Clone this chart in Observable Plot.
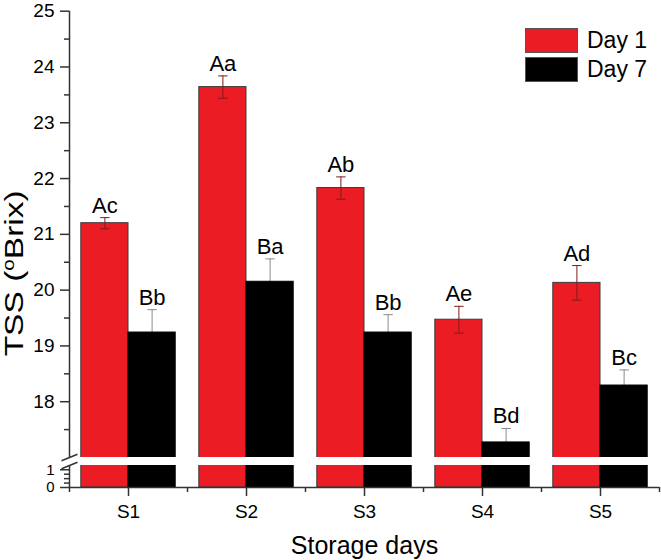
<!DOCTYPE html>
<html><head><meta charset="utf-8">
<script src="https://cdn.jsdelivr.net/npm/d3@7"></script>
<script src="https://cdn.jsdelivr.net/npm/@observablehq/plot@0.6"></script>
<style>
body{margin:0;background:#fff;font-family:"Liberation Sans",Arial,sans-serif;}
#wrap{position:relative;width:661px;height:560px;}
#legend{position:absolute;left:525px;top:28px;}
.item{display:flex;align-items:center;height:25px;margin-bottom:4px;font-size:23px;color:#000;}
.swatch{width:51px;height:23px;border:1px solid #555;margin-right:9px;box-sizing:content-box;}
</style></head><body>
<div id="wrap"><div id="legend"></div></div>
<script>
// ---- data ----
const samples = ["S1", "S2", "S3", "S4", "S5"];
const seriesNames = ["Day 1", "Day 7"];
const seriesColors = ["#ec1c24", "#000000"];
const day1 = [21.20, 23.64, 21.83, 19.47, 20.13];
const day1Err = [0.10, 0.20, 0.20, 0.24, 0.31];
const day7 = [19.24, 20.15, 19.24, 17.27, 18.29];
const day7Err = [0.41, 0.41, 0.32, 0.25, 0.28];
const day1Letters = ["Ac", "Aa", "Ab", "Ae", "Ad"];
const day7Letters = ["Bb", "Ba", "Bb", "Bd", "Bc"];
const yTicksMajor = [0, 1, 18, 19, 20, 21, 22, 23, 24, 25];
const yTicksMinor = [0.25, 0.5, 0.75, 17.5, 18.5, 19.5, 20.5, 21.5, 22.5, 23.5, 24.5];
const yBreak = [1.24, 17];
const yMax = 25;
const xTitle = "Storage days";
const yTitle = "TSS (oBrix)";

// ---- layout ----
const W = 661, H = 560, mL = 69, mR = 2, mT = 10.7, mB = 73;
const bottom = H - mB;
const yRange = [bottom, bottom - 22, bottom - 30, mT];
const xDomain = [-0.5, samples.length - 0.5];
const barOffsets = [-0.4, 0], barW = 0.4, capHalf = 0.04;

const vals = [day1, day7], errs = [day1Err, day7Err], letters = [day1Letters, day7Letters];
const rows = samples.flatMap((s, i) => seriesNames.map((n, k) => ({
  i, s, k, series: n, v: vals[k][i], e: errs[k][i], lab: letters[k][i],
  x1: i + barOffsets[k], x2: i + barOffsets[k] + barW, xc: i + barOffsets[k] + barW / 2
})));
const r1 = rows.filter(d => d.k === 0), r7 = rows.filter(d => d.k === 1);
const errColors = ["#7d1b1b", "#8a8a8a"];

function errMarks(data, k) {
  return [
    Plot.ruleX(data, {x: "xc", y1: d => d.v - d.e, y2: d => d.v + d.e, stroke: errColors[k], strokeWidth: 1}),
    Plot.link(data, {x1: d => d.xc - capHalf, x2: d => d.xc + capHalf, y1: d => d.v + d.e, y2: d => d.v + d.e, stroke: errColors[k], strokeWidth: 1}),
    Plot.link(data, {x1: d => d.xc - capHalf, x2: d => d.xc + capHalf, y1: d => d.v - d.e, y2: d => d.v - d.e, stroke: errColors[k], strokeWidth: 1})
  ];
}

const slash = {draw(ctx, size) { const r = Math.sqrt(size / Math.PI); ctx.moveTo(-r, r * 0.4); ctx.lineTo(r, -r * 0.4); }};
const axisColor = "#333";

const chart = Plot.plot({
  width: W, height: H, marginLeft: mL, marginRight: mR, marginTop: mT, marginBottom: mB,
  style: {fontFamily: "'Liberation Sans', Arial, sans-serif", fontSize: "19px", color: "#000", background: "#fff"},
  x: {type: "linear", domain: xDomain},
  y: {type: "linear", domain: [0, yBreak[0], yBreak[1], yMax], range: yRange},
  marks: [
    ...errMarks(r7, 1),
    Plot.rectY(rows, {x1: "x1", x2: "x2", y1: 0, y2: "v", fill: d => seriesColors[d.k], stroke: d => d.k === 0 ? "#3a3a3a" : "#000", strokeWidth: 1}),
    ...errMarks(r1, 0),
    Plot.rect([yBreak], {x1: xDomain[0], x2: xDomain[1], y1: d => d[0], y2: d => d[1], fill: "#fff"}),
    Plot.text(rows, {x: "xc", y: d => d.v + d.e, text: "lab", dy: -5, lineAnchor: "bottom", fontSize: 22}),
    Plot.ruleY([0], {stroke: axisColor, strokeWidth: 1.5}),
    Plot.ruleX([[0, yBreak[0]], [yBreak[1], yMax]], {x: xDomain[0], y1: d => d[0], y2: d => d[1], stroke: axisColor, strokeWidth: 1.5}),
    Plot.dot(yBreak, {x: xDomain[0], y: d => d, symbol: slash, r: 8, stroke: axisColor, strokeWidth: 1.5, fill: "none"}),
    Plot.axisY(yTicksMajor, {tickSize: 9, tickPadding: 6, fontSize: 19, label: null, stroke: axisColor, strokeWidth: 1.5}),
    Plot.axisY(yTicksMinor, {tickSize: 5, tickFormat: () => "", label: null, stroke: axisColor, strokeWidth: 1.5}),
    Plot.axisX(samples.map((_, i) => i), {tickFormat: i => samples[i], tickSize: 9, tickPadding: 8, fontSize: 19, label: null, stroke: axisColor, strokeWidth: 1.5}),
    Plot.axisX(d3.range(samples.length + 1).map(i => i - 0.5), {tickSize: 5, tickFormat: () => "", label: null, stroke: axisColor, strokeWidth: 1.5}),
    Plot.text([xTitle], {frameAnchor: "bottom", dy: 58, lineAnchor: "middle", textAnchor: "middle", fontSize: 25}),
    Plot.text([yTitle], {frameAnchor: "left", dx: -55, dy: 24, rotate: -90, lineAnchor: "middle", textAnchor: "middle", fontSize: 26})
  ]
});

const svg = d3.select(chart);
// tick label sizes
const yLabelSet = new Set(yTicksMajor.map(String));
const xLabelSet = new Set(samples);
svg.selectAll("text").each(function () {
  const t = this.textContent;
  if (yLabelSet.has(t) || xLabelSet.has(t)) {
    const fs = (t === "0" || t === "1") ? 15 : 19;
    d3.select(this).attr("font-size", fs).style("font-size", fs + "px");
  }
});

// superscript "o" in the y title
svg.selectAll("text").filter(function () { return this.textContent === yTitle; }).each(function () {
  const t = d3.select(this);
  t.text(null);
  t.attr("textLength", 166).attr("lengthAdjust", "spacingAndGlyphs");
  t.append("tspan").text("TSS (");
  t.append("tspan").attr("dy", "-9").attr("font-size", "16px").text("o");
  t.append("tspan").attr("dy", "9").text("Brix)");
});

const wrap = document.getElementById("wrap");
wrap.insertBefore(chart, wrap.firstChild);

const legend = d3.select("#legend");
seriesNames.forEach((n, k) => {
  const it = legend.append("div").attr("class", "item");
  it.append("div").attr("class", "swatch").style("background", seriesColors[k]);
  it.append("span").text(n);
});
</script>
</body></html>
